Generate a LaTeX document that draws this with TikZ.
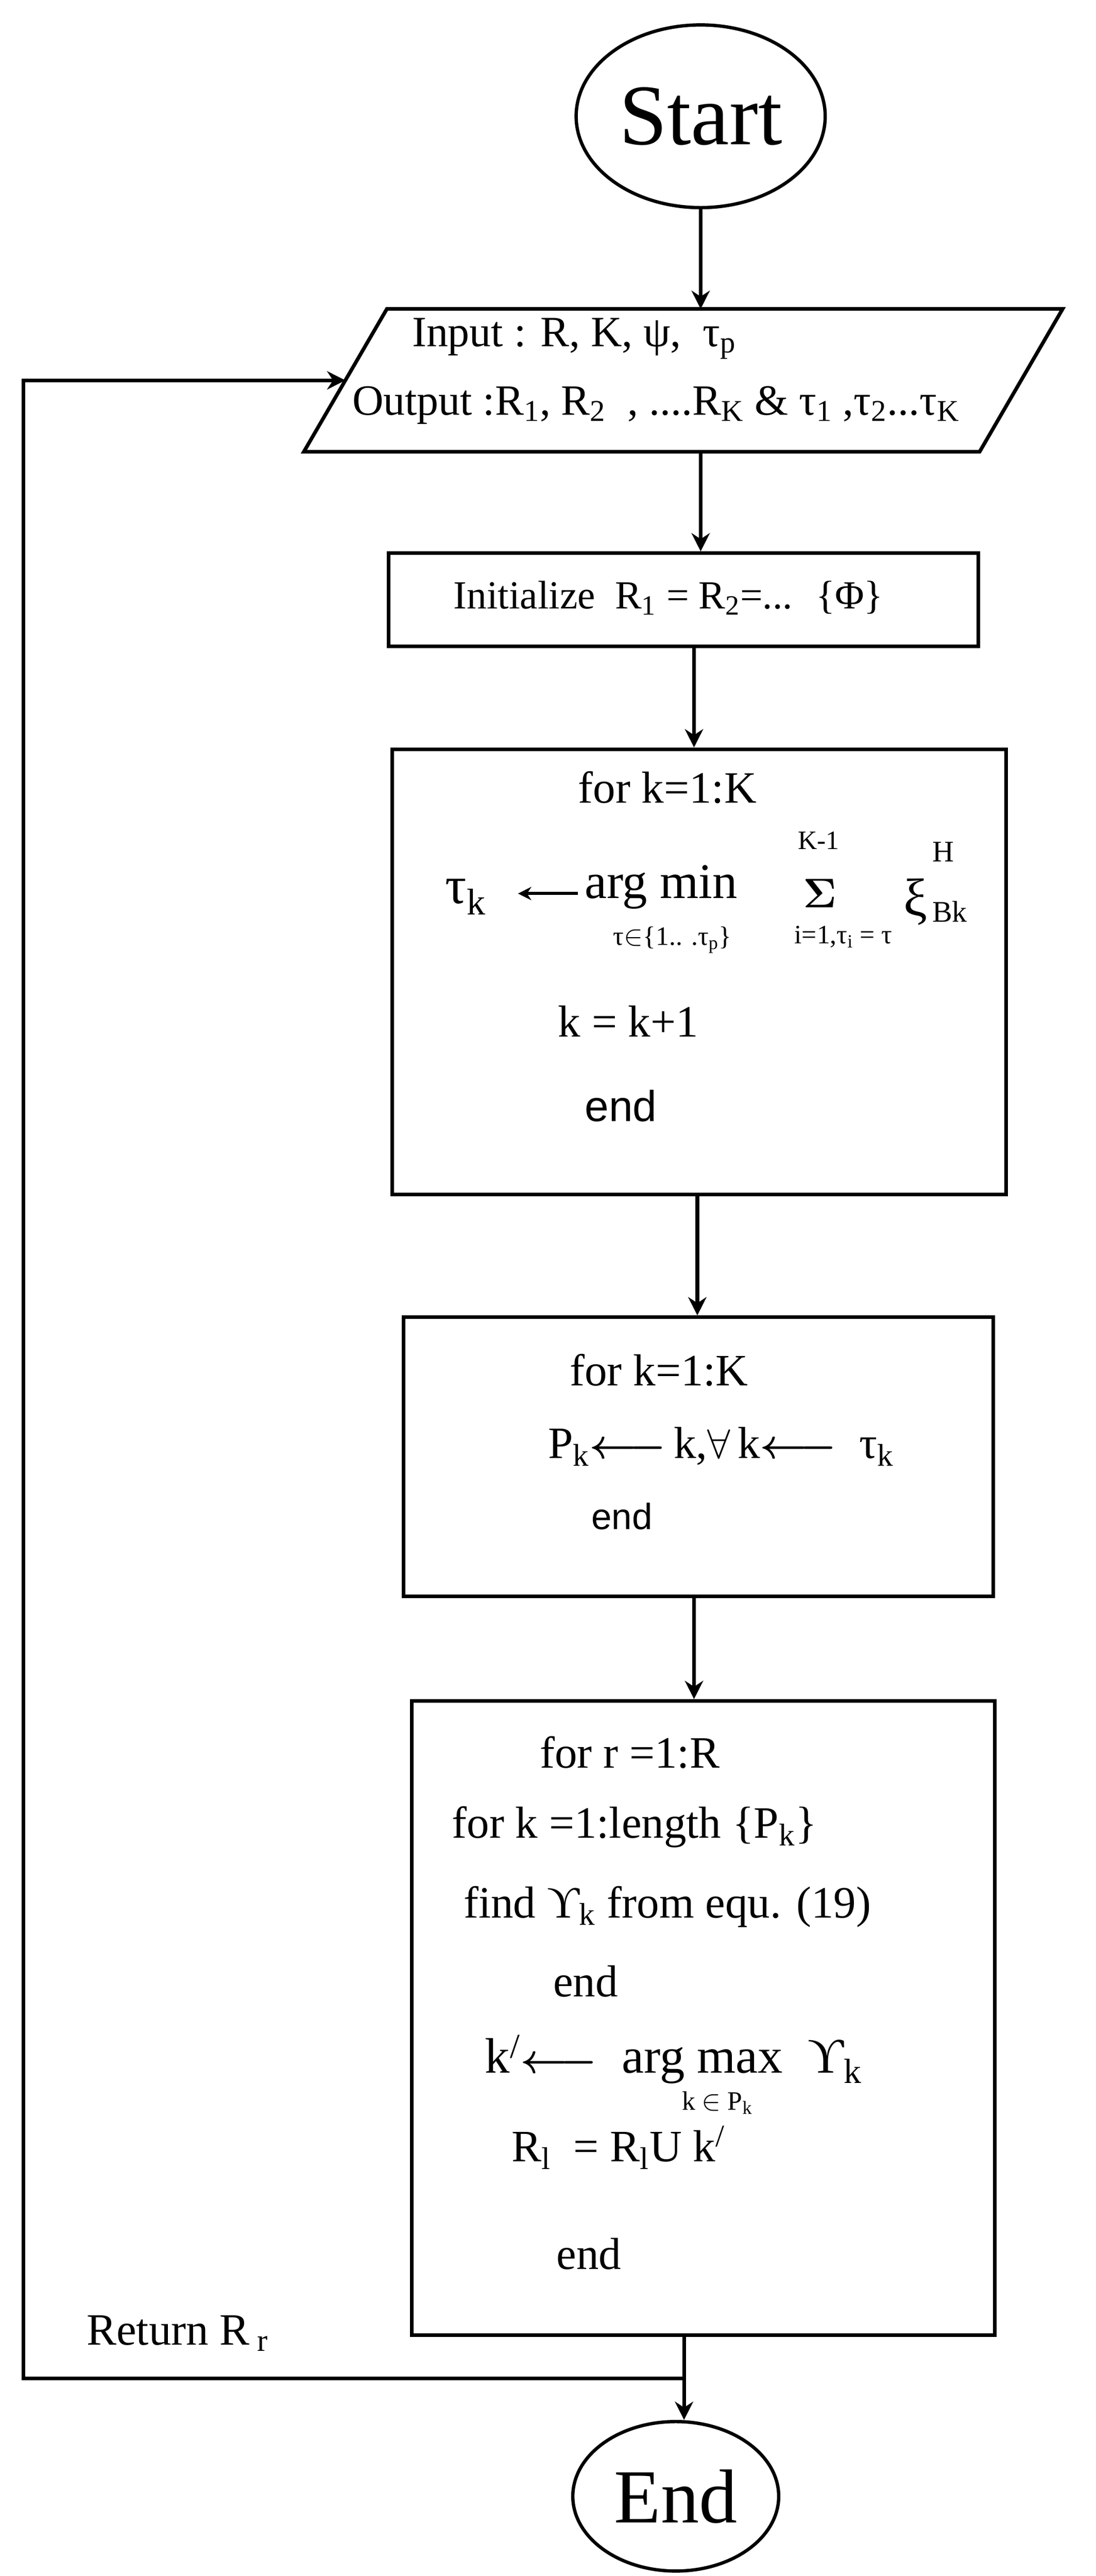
\documentclass[tikz,border=0pt]{standalone}
\usepackage{amsmath}
\usepackage{fontspec}
\setmainfont{Liberation Serif}
\newfontfamily\sansf{Liberation Sans}
\usetikzlibrary{shapes.geometric,arrows.meta}
\begin{document}
\begin{tikzpicture}[x=1pt,y=-1pt,
  ln/.style={line width=2.2pt},
  arr/.style={ln,-{Stealth[length=11pt,width=11pt]}},
  box/.style={draw,line width=2.2pt},
  tx/.style={anchor=west,inner sep=0pt,font=\fontsize{27}{32}\selectfont},
  sm/.style={anchor=center,inner sep=0pt,font=\fontsize{16}{19}\selectfont}]
\useasboundingbox (0,0) rectangle (660,1551);
% Start
\node[draw,ellipse,line width=2pt,minimum width=150pt,minimum height=110pt,font=\fontsize{52}{60}\selectfont] (start) at (422,70) {Start};
% parallelogram
\draw[box] (233,186) -- (640,186) -- (590,272) -- (183,272) -- cycle;
\coordinate (parT) at (422,186);\coordinate (parB) at (422,272);
\coordinate (parL) at (208,229);
\node[tx,font=\fontsize{26}{30}\selectfont] (in) at (248,204) {Input : R, K, ψ, \ τ\textsubscript{p}};
\node[tx,font=\fontsize{26}{30}\selectfont] (out) at (212,244) {Output :R\textsubscript{1}, R\textsubscript{2} \ , ....R\textsubscript{K} \& τ\textsubscript{1} ,τ\textsubscript{2}...τ\textsubscript{K}};
% init
\node[box,minimum width=355pt,minimum height=56pt,anchor=north west] (init) at (233,332) {};
\node[tx,font=\fontsize{24}{28}\selectfont] (initt) at (273,360) {Initialize \ R\textsubscript{1} = R\textsubscript{2}=... \ \{Φ\}};
% box3
\node[box,minimum width=370pt,minimum height=268pt,anchor=north west] (b3) at (235,450) {};
\node[tx] (l31) at (348,474) {for k=1:K};
\node[tx,font=\fontsize{32}{36}\selectfont] (tk) at (268,540) {τ\textsubscript{k}};
\coordinate (a1s) at (348,538); \coordinate (a1e) at (312,538);
\draw[line width=1.8pt,-{Stealth[length=8pt,width=8pt]}] (a1s) -- (a1e);
\node[tx,font=\fontsize{30}{34}\selectfont] (amin) at (352,534) {arg min};
\node[sm] (amins) at (405,566) {τ$\in$\{1.. .τ\textsubscript{p}\}};
\node[sm] (km1) at (493,506) {K-1};
\node[inner sep=0pt,font=\fontsize{36}{40}\selectfont] (sig) at (494,538) {$\boldsymbol{\Sigma}$};
\node[sm] (sigs) at (508,564) {i=1,τ\textsubscript{i} = τ};
\node[tx,font=\fontsize{32}{36}\selectfont] (xi) at (544,543) {ξ};
\node[sm,font=\fontsize{18}{20}\selectfont] (xiH) at (568,513) {H};
\node[sm,font=\fontsize{18}{20}\selectfont] (xiB) at (572,549) {Bk};
\node[tx] (l33) at (336,615) {k = k+1};
\node[tx,font=\fontsize{26}{30}\sansf] (l34) at (352,666) {end};
% box4
\node[box,minimum width=355pt,minimum height=168pt,anchor=north west] (b4) at (242,792) {};
\node[tx] (l41) at (343,825) {for k=1:K};
\node[tx] (l42) at (330,871) {P\textsubscript{k}$\boldsymbol{\longleftarrow}$\,k,$\forall$\,k$\boldsymbol{\longleftarrow}$\ \ τ\textsubscript{k}};
\node[tx,font=\fontsize{22}{26}\sansf] (l43) at (356,913) {end};
% box5
\node[box,minimum width=351pt,minimum height=382pt,anchor=north west] (b5) at (247,1023) {};
\node[tx] (l51) at (325,1055) {for r =1:R};
\node[tx] (l52) at (272,1100) {for k =1:length \{P\textsubscript{k}\}};
\node[tx] (l53) at (279,1148) {find ϒ\textsubscript{k} from equ. (19)};
\node[tx] (l54) at (333,1193) {end};
\node[tx,font=\fontsize{30}{34}\selectfont] (l55) at (292,1240) {k\textsuperscript{/}$\boldsymbol{\longleftarrow}$ \ arg max \ ϒ\textsubscript{k}};
\node[sm] (l55s) at (432,1266) {k $\in$ P\textsubscript{k}};
\node[tx] (l56) at (308,1293) {R\textsubscript{l} \ = R\textsubscript{l}U k\textsuperscript{/}};
\node[tx] (l57) at (335,1357) {end};
% End
\node[draw,ellipse,line width=2pt,minimum width=124pt,minimum height=90pt,font=\fontsize{46}{50}\selectfont] (endn) at (407,1503) {End};
% arrows
\draw[arr] (start) -- (parT);
\draw[arr] (parB) -- (init.north -| parB);
\draw[arr] (init.south -| 418,0) -- (b3.north -| 418,0);
\draw[arr] (b3.south -| 420,0) -- (b4.north -| 420,0);
\draw[arr] (b4.south -| 418,0) -- (b5.north -| 418,0);
\coordinate (j) at (412,1432);
\coordinate (c1) at (14,1432);\coordinate (c2) at (14,229);
\draw[arr] (b5.south -| j) -- (endn.north -| j);
\draw[arr] (j) -- (c1) -- (c2) -- (parL);
\node[tx] (ret) at (52,1405) {Return R\,\textsubscript{r}};
\end{tikzpicture}
\end{document}
